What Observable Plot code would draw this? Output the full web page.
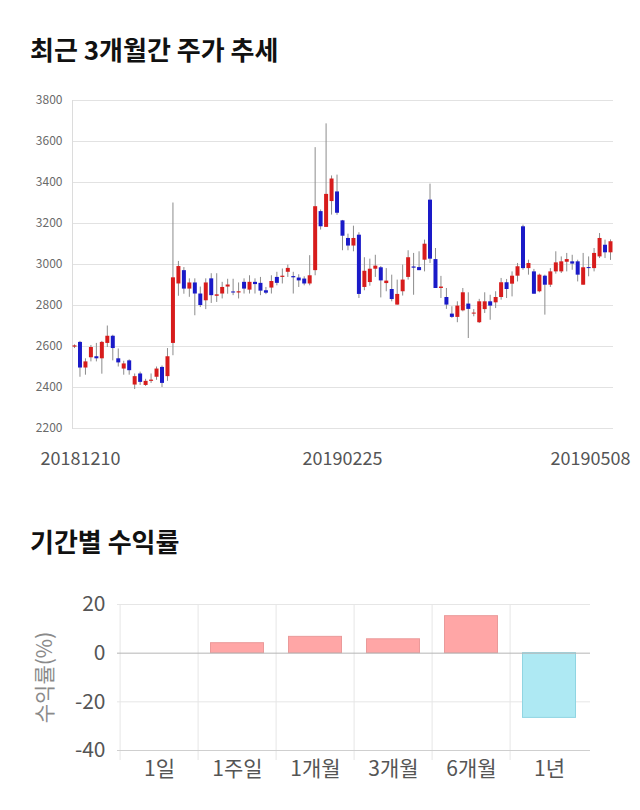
<!DOCTYPE html>
<html><head><meta charset="utf-8">
<script src="https://cdn.jsdelivr.net/npm/d3@7"></script>
<script src="https://cdn.jsdelivr.net/npm/@observablehq/plot@0.6"></script>
<style>
body{margin:0;background:#fff;font-family:"Noto Sans CJK KR","Noto Sans",sans-serif;}
#page{position:relative;width:640px;height:810px;overflow:hidden;background:#fff;}
.title{position:absolute;left:30px;font-size:26px;font-weight:bold;color:#111;line-height:1;white-space:nowrap;}
#t1{top:36px;} #t2{top:528px;}
#c1{position:absolute;left:0;top:85px;}
#c2{position:absolute;left:0;top:585px;}
</style></head>
<body>
<div id="page">
  <div class="title" id="t1">최근 3개월간 주가 추세</div>
  <div id="c1"></div>
  <div class="title" id="t2">기간별 수익률</div>
  <div id="c2"></div>
</div>
<script>
// ---- Candlestick data (trading days 2018-12-10 .. 2019-05-08) ----
const open  = [2597,2620,2495,2545,2550,2540,2615,2650,2540,2490,2530,2412,2466,2410,2430,2450,2498,2453,2615,2905,
               2970,2880,2910,2856,2823,2930,2845,2856,2890,2866,2861,2913,2875,2913,2908,2872,2885,2937,2937,2962,
               2941,2934,2929,2905,2970,3258,3181,3307,3354,3213,3127,3090,3143,2888,2912,2977,2984,2907,2878,2802,
               2867,2937,2988,2985,3021,3314,3024,2883,2839,2758,2742,2774,2807,2758,2716,2780,2818,2813,2839,2911,
               2904,2943,3184,2980,2964,2867,2943,2899,2964,2964,3011,3013,3013,2899,2985,2980,3037,3094,3057];
const high  = [2608,2625,2540,2605,2615,2625,2700,2655,2588,2528,2535,2466,2475,2440,2466,2500,2505,2590,3300,3015,
               2985,2930,2930,2890,2930,2955,2955,2913,2928,2928,2910,2930,2945,2930,2937,2888,2945,2962,2978,2997,
               2962,2950,2940,3043,3570,3266,3686,3432,3436,3215,3148,3187,3155,3033,3026,3045,2990,2980,2948,2924,
               2997,3067,3054,3062,3119,3392,3078,2942,2883,2794,2818,2883,2862,2780,2830,2862,2850,2867,2932,2927,
               2964,3005,3192,3021,2976,2953,2948,2980,3062,3037,3054,3045,3021,3054,3037,3078,3151,3119,3120];
const low   = [2590,2450,2460,2525,2525,2465,2595,2530,2500,2460,2460,2390,2410,2405,2420,2435,2400,2430,2555,2845,
               2855,2840,2750,2790,2780,2810,2815,2832,2855,2848,2832,2856,2856,2856,2848,2853,2856,2896,2905,2937,
               2856,2888,2896,2896,2945,3168,3181,3241,3240,3067,3067,3062,2834,2872,2894,2937,2837,2867,2818,2802,
               2846,2924,2850,2970,2964,3005,2883,2834,2781,2737,2716,2769,2639,2745,2712,2761,2728,2785,2826,2834,
               2842,2915,2972,2948,2855,2862,2753,2888,2953,2956,2964,2972,2915,2899,2940,2964,3029,3029,3020];
const close = [2603,2495,2525,2595,2540,2620,2650,2590,2520,2515,2482,2453,2425,2430,2436,2490,2420,2550,2935,2990,
               2880,2910,2856,2800,2910,2848,2852,2888,2900,2861,2867,2880,2913,2902,2870,2860,2917,2908,2943,2981,
               2935,2920,2905,2945,3282,3184,3342,3417,3250,3138,3090,3127,2854,2967,2977,2992,2920,2919,2829,2854,
               2924,3033,2982,2970,3099,3026,2883,2890,2802,2742,2797,2862,2781,2763,2818,2818,2797,2839,2911,2878,
               2943,2989,2980,3005,2855,2948,2899,2964,3008,3013,3024,3002,2948,2984,2980,3054,3127,3057,3111];
const priceTicks = [2200,2400,2600,2800,3000,3200,3400,3600,3800];
const dateTickIdx = [0, 49, 98];
const dateTickLabels = ["20181210", "20190225", "20190508"];

// ---- Period returns ----
const periods = ["1일", "1주일", "1개월", "3개월", "6개월", "1년"];
const returns = [0, 4.1, 6.7, 5.7, 15.2, -26.6];
const returnTicks = [-40, -20, 0, 20];

const UP = "#d71c1c", DOWN = "#1a1ac8";
const FONT = '"Noto Sans CJK KR","Noto Sans",sans-serif';

const candles = open.map((o, i) => ({i, o, h: high[i], l: low[i], c: close[i]}));
const labelOf = i => dateTickLabels[dateTickIdx.indexOf(i)];

const chart1 = Plot.plot({
  width: 640, height: 400,
  marginTop: 15, marginBottom: 57, marginLeft: 72, marginRight: 27,
  x: {domain: [0, candles.length - 1], insetLeft: 2, insetRight: 3, axis: null},
  y: {domain: [2200, 3800], axis: null},
  style: {fontFamily: FONT, background: "transparent", overflow: "visible"},
  marks: [
    Plot.gridY(priceTicks, {stroke: "#e2e2e2", strokeOpacity: 1}),
    Plot.frame({anchor: "left", stroke: "#dcdcdc"}),
    Plot.axisY(priceTicks, {tickSize: 0, tickPadding: 10, fontSize: 12, color: "#6a6a6a", tickFormat: d => String(d), label: null}),
    Plot.ruleX(candles, {x: "i", y1: "l", y2: "h", stroke: "#8c8c8c", strokeWidth: 1}),
    Plot.ruleX(candles, {x: "i", y1: "o", y2: "c", stroke: d => d.c >= d.o ? UP : DOWN, strokeWidth: 4}),
    Plot.axisX([dateTickIdx[0]], {tickSize: 0, tickPadding: 24, fontSize: 18, color: "#555", tickFormat: labelOf, textAnchor: "start", dx: -34, label: null}),
    Plot.axisX([dateTickIdx[1]], {tickSize: 0, tickPadding: 24, fontSize: 18, color: "#555", tickFormat: labelOf, label: null}),
    Plot.axisX([dateTickIdx[2]], {tickSize: 0, tickPadding: 24, fontSize: 18, color: "#555", tickFormat: labelOf, textAnchor: "end", dx: 20, label: null})
  ]
});
document.getElementById("c1").append(chart1);

const rows = periods.map((p, i) => ({p, v: returns[i]}));
const chart2 = Plot.plot({
  width: 640, height: 215,
  marginTop: 19, marginBottom: 50, marginLeft: 117, marginRight: 50,
  x: {domain: periods, padding: 0, axis: null},
  y: {domain: [-40, 20], axis: null},
  style: {fontFamily: FONT, background: "transparent", overflow: "visible"},
  marks: [
    Plot.gridY([20, -20], {stroke: "#e6e6e6", strokeOpacity: 1}),
    Plot.ruleX(periods, {x: d => d, dx: -39.4, stroke: "#e6e6e6", insetBottom: -10}),
    Plot.ruleY([-40], {stroke: "#cfcfcf"}),
    Plot.barY(rows, {x: "p", y: "v", fill: d => d.v >= 0 ? "#ffa6a6" : "#aee9f3",
      stroke: d => d.v >= 0 ? "#ea9a9a" : "#90d5e2", strokeWidth: 1, insetLeft: 12.5, insetRight: 12.5}),
    Plot.ruleY([0], {stroke: "#b5b5b5"}),
    Plot.axisY(returnTicks, {tickSize: 0, tickPadding: 12, fontSize: 21, color: "#555", tickFormat: d => String(d), label: null}),
    Plot.axisX({tickSize: 0, tickPadding: 11, fontSize: 21, color: "#555", label: null}),
    Plot.text(["수익률(%)"], {frameAnchor: "left", textAnchor: "middle", rotate: -90, dx: -72, fontSize: 21, fill: "#8a8a8a"})
  ]
});
document.getElementById("c2").append(chart2);
</script>
</body></html>
